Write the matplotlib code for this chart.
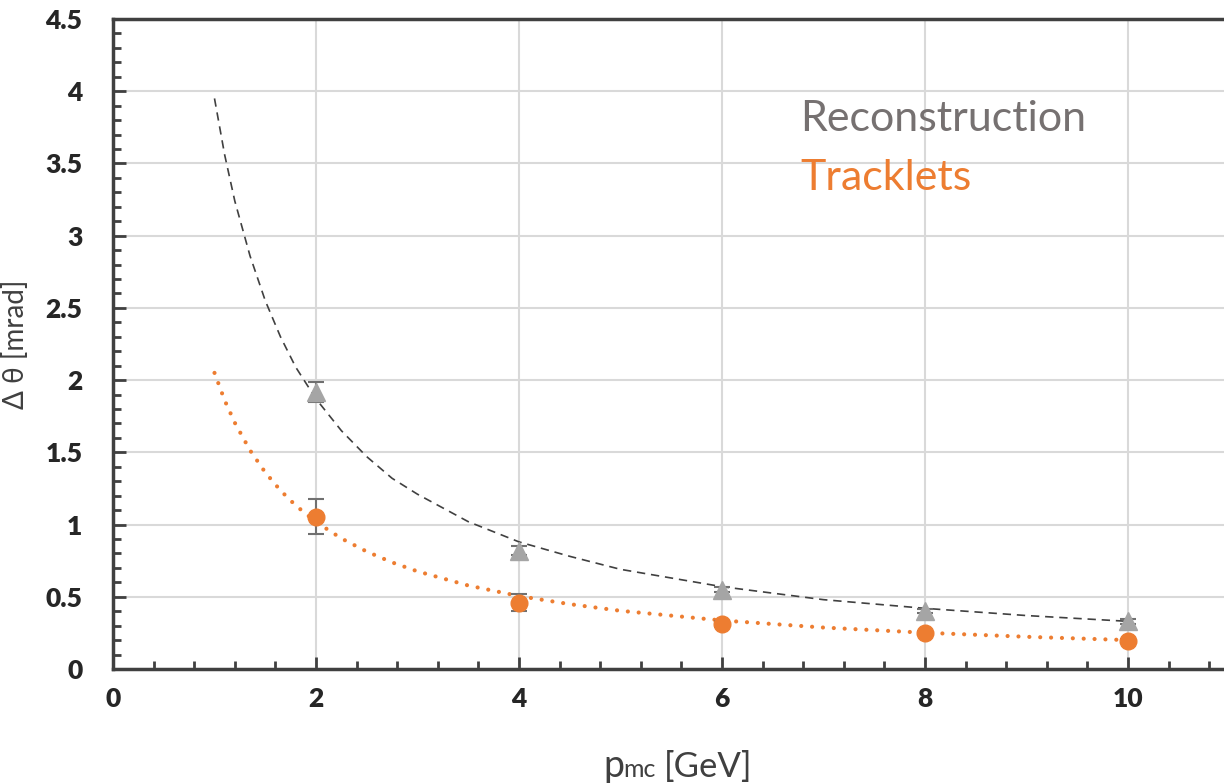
import matplotlib
matplotlib.use("Agg")
import matplotlib.pyplot as plt
from matplotlib.ticker import MultipleLocator

# измеренные точки
p_mc = [2, 4, 6, 8, 10]
reco = [1.92, 0.82, 0.55, 0.40, 0.33]
reco_err = [0.07, 0.03, 0.02, 0.015, 0.015]
trk = [1.055, 0.46, 0.31, 0.25, 0.195]
trk_err = [0.12, 0.06, 0.02, 0.015, 0.015]

# линии тренда
fit_x = [1, 1.1, 1.2, 1.35, 1.5, 1.65, 1.8, 2, 2.25, 2.5, 2.75, 3, 3.5, 4, 4.5,
         5, 6, 7, 8, 9, 10]
fit_reco = [3.95, 3.56, 3.24, 2.86, 2.55, 2.30, 2.09, 1.87, 1.65, 1.47, 1.32,
            1.21, 1.02, 0.88, 0.78, 0.69, 0.57, 0.48, 0.42, 0.37, 0.33]
fit_trk = [2.05, 1.86, 1.705, 1.514, 1.361, 1.236, 1.132, 1.018, 0.904, 0.813,
           0.738, 0.676, 0.578, 0.505, 0.449, 0.403, 0.336, 0.287, 0.251,
           0.223, 0.200]

GREY = "#A5A5A5"
ORANGE = "#ED7D31"
DARK = "#404040"

plt.rcParams["font.family"] = ["Lato", "DejaVu Sans"]

W, H = 1224, 783
fig = plt.figure(figsize=(W / 100, H / 100), dpi=100)
ax = fig.add_axes([113 / W, 114 / H, 11 * 101.5 / W, 650 / H])

ax.grid(True, color="#D9D9D9", lw=1.5, zorder=0)
ax.set_axisbelow(True)

ax.plot(fit_x, fit_reco, color=DARK, lw=1.2, ls=(0, (5, 3.5)), zorder=2)
ax.plot(fit_x, fit_trk, color=ORANGE, lw=3, ls=(0, (0.01, 2.6)),
        dash_capstyle="round", zorder=2)

ax.errorbar(p_mc, reco, yerr=reco_err, fmt="^", color=GREY, ms=13, mec=GREY,
            ecolor="#707070", elinewidth=1.5, capsize=6, capthick=1.5, zorder=3)
ax.errorbar(p_mc, trk, yerr=trk_err, fmt="o", color=ORANGE, ms=12, mec=ORANGE,
            ecolor="#707070", elinewidth=1.5, capsize=6, capthick=1.5, zorder=4)

ax.set_xlim(0, 11)
ax.set_ylim(0, 4.5)
ax.xaxis.set_major_locator(MultipleLocator(2))
ax.xaxis.set_minor_locator(MultipleLocator(0.4))
ax.yaxis.set_major_locator(MultipleLocator(0.5))
ax.yaxis.set_minor_locator(MultipleLocator(0.1))
ax.set_yticks([0, 0.5, 1, 1.5, 2, 2.5, 3, 3.5, 4, 4.5],
              ["0", "0.5", "1", "1.5", "2", "2.5", "3", "3.5", "4", "4.5"])

for s in ["left", "bottom", "top"]:
    ax.spines[s].set_color(DARK)
    ax.spines[s].set_linewidth(2.5)
ax.spines["right"].set_visible(False)

ax.tick_params(which="major", direction="in", length=9, width=2, color=DARK,
               labelsize=19, labelcolor="#262626", pad=13)
ax.tick_params(which="minor", direction="in", length=6, width=2, color=DARK)
ax.tick_params(axis="y", pad=22)
for lab in ax.get_xticklabels() + ax.get_yticklabels():
    lab.set_fontweight("heavy")

ax.set_ylabel("Δ θ [mrad]", fontsize=20, color=DARK, labelpad=12)

# подпись оси x: "mc" мельче, но на той же базовой линии
base = (H - 777) / H
fig.text(603 / W, base, "p", fontsize=27, color=DARK, va="baseline")
fig.text(623 / W, base, "mc", fontsize=18, color=DARK, va="baseline")
fig.text(664 / W, base, "[GeV]", fontsize=25, color=DARK, va="baseline")

ax.text(6.77, 3.81, "Reconstruction", fontsize=31, color="#767171", va="center")
ax.text(6.77, 3.40, "Tracklets", fontsize=31, color=ORANGE, va="center")

fig.savefig("out.png", dpi=100)
